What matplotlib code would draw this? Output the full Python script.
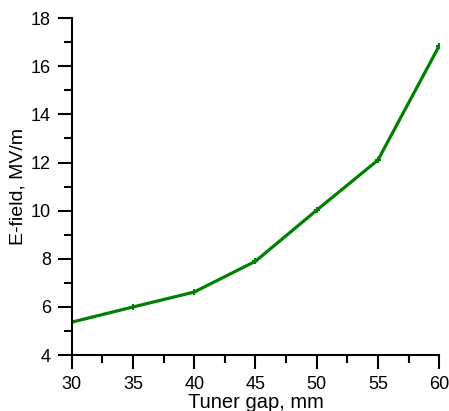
import matplotlib.pyplot as plt
from matplotlib.ticker import MultipleLocator

plt.rcParams['font.family'] = ['Liberation Sans', 'DejaVu Sans']

gap = [30, 35, 40, 45, 50, 55, 60]
efield = [5.37, 6.0, 6.62, 7.9, 10.02, 12.1, 16.84]

fig = plt.figure(figsize=(4.49, 4.11), dpi=100)
ax = fig.add_axes([0.160, 0.136, 0.818, 0.820])

ax.plot(gap, efield, color="green", linewidth=2.3, marker="+", markersize=5, markeredgewidth=1.5)

ax.set_xlim(30, 60)
ax.set_ylim(4, 18)
ax.xaxis.set_major_locator(MultipleLocator(5))
ax.xaxis.set_minor_locator(MultipleLocator(2.5))
ax.yaxis.set_major_locator(MultipleLocator(2))
ax.yaxis.set_minor_locator(MultipleLocator(1))

ax.spines['top'].set_visible(False)
ax.spines['right'].set_visible(False)
for s in ['left', 'bottom']:
    ax.spines[s].set_linewidth(1.5)
ax.tick_params(which='major', direction='out', length=10, width=1.5, labelsize=13)
ax.tick_params(which='minor', direction='out', length=6, width=1.5)
ax.tick_params(axis='x', pad=5)
ax.tick_params(axis='y', pad=5)

ax.set_xlabel("Tuner gap, mm", fontsize=14.5, labelpad=0)
ax.set_ylabel("E-field, MV/m", fontsize=14, labelpad=3)

fig.savefig("out.png", dpi=100)
